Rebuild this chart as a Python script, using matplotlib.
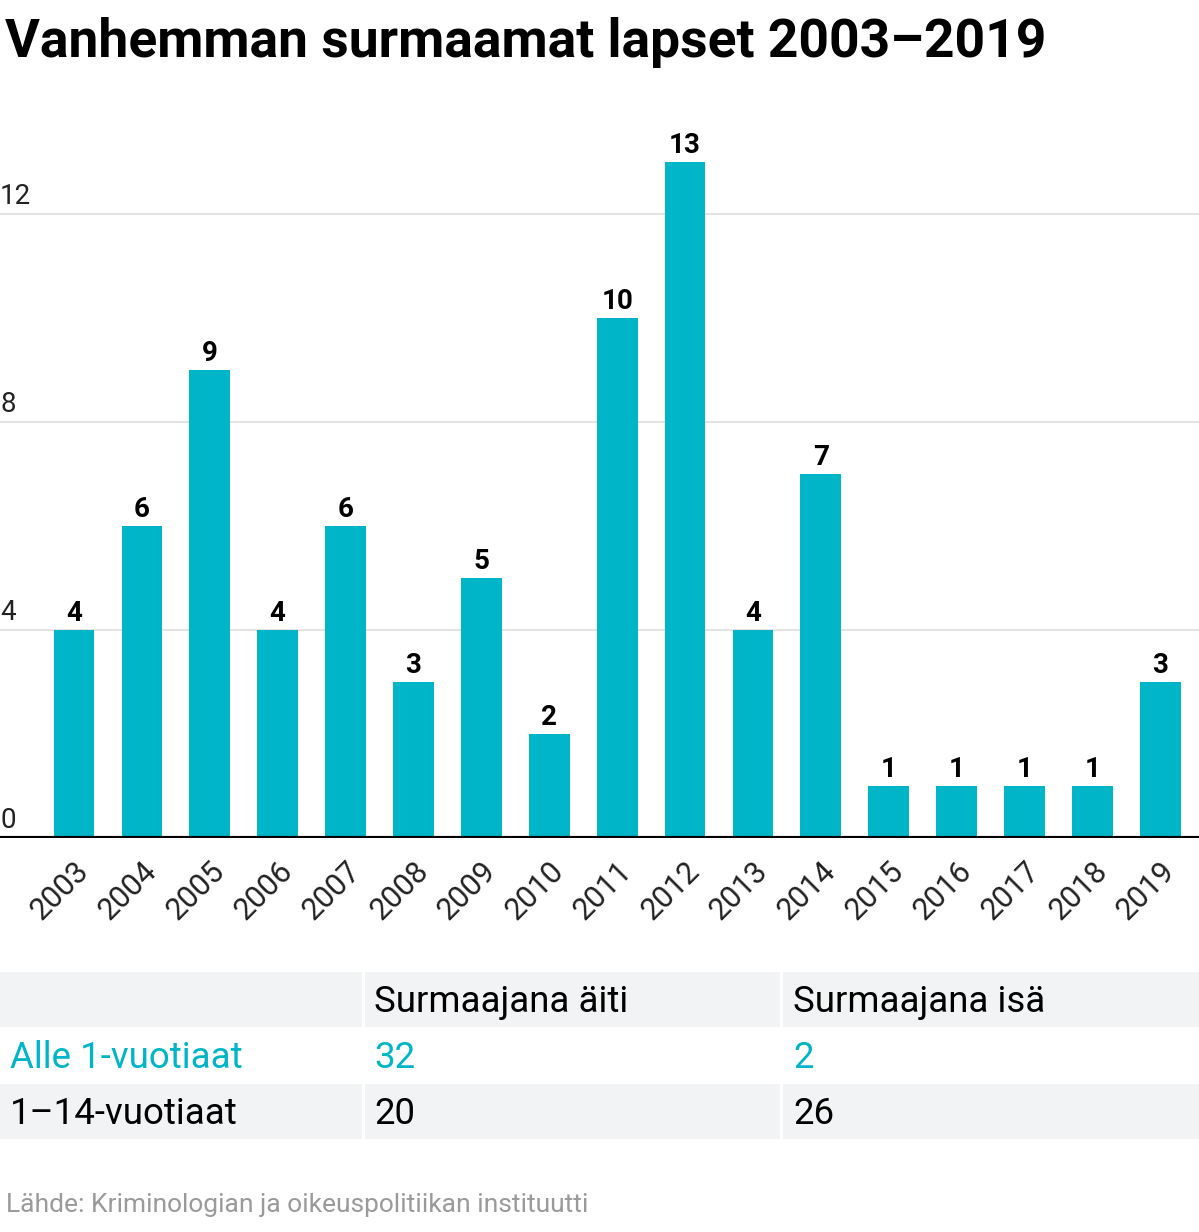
import matplotlib
matplotlib.use("Agg")
import matplotlib.pyplot as plt
from matplotlib.patches import Rectangle

plt.rcParams['font.family'] = ['Roboto', 'DejaVu Sans']

years = [str(y) for y in range(2003, 2020)]
values = [4, 6, 9, 4, 6, 3, 5, 2, 10, 13, 4, 7, 1, 1, 1, 1, 3]
yticks = [0, 4, 8, 12]

title = "Vanhemman surmaamat lapset 2003–2019"
col_headers = ["", "Surmaajana äiti", "Surmaajana isä"]
row_labels = ["Alle 1-vuotiaat", "1–14-vuotiaat"]
mother = [32, 20]
father = [2, 26]
source = "Lähde: Kriminologian ja oikeuspolitiikan instituutti"

TEAL = "#00b5c8"
W, H = 1199, 1232
fig = plt.figure(figsize=(W / 100, H / 100), dpi=100)

def fx(px):
    return px / W

def fy(py):
    return 1 - py / H

# axes: baseline at y=838, value 13 at y=162 -> 52 px/unit
top_px = 120
ax = fig.add_axes([0, fy(838), 1, (838 - top_px) / H])
ax.set_ylim(0, (838 - top_px) / 52.0)
n = len(values)
ax.set_xlim(-1.09, 16.57)
x = list(range(n))
ax.bar(x, values, width=0.6, color=TEAL, zorder=2)
for xi, v in zip(x, values):
    ax.text(xi, v + 0.06, str(v), ha='center', va='bottom', fontsize=20,
            fontweight='bold', color='black', zorder=3)
for t in yticks:
    if t > 0:
        ax.axhline(t, color='#e3e3e3', lw=1.5, zorder=1)
    ax.text(0.0, t + 0.07, str(t), transform=ax.get_yaxis_transform(),
            ha='left', va='bottom', fontsize=20, color='#222222')
ax.axhline(0, color='black', lw=3, zorder=4)
for s in ax.spines.values():
    s.set_visible(False)
ax.set_yticks([])
ax.set_xticks(x)
ax.set_xticklabels(years, rotation=45, ha='right', rotation_mode='anchor',
                   fontsize=22, color='#222222')
ax.tick_params(axis='x', length=0, pad=13)

# title
fig.text(fx(5), fy(42), title, fontsize=38.4, fontweight='bold', ha='left',
         va='center', color='black')

# table
rows_y = [(972, 1027), (1028, 1083), (1084, 1139)]
row_bg = ['#f2f3f4', '#ffffff', '#f2f3f4']
col_x = [(0, 362), (365, 780), (783, 1199)]
for (y0, y1), bg in zip(rows_y, row_bg):
    for (x0, x1) in col_x:
        fig.patches.append(Rectangle((fx(x0), fy(y1)), fx(x1 - x0), (y1 - y0) / H,
                                     transform=fig.transFigure, facecolor=bg,
                                     edgecolor='none'))
text_x = [10, 374, 793]
table_rows = [col_headers,
              [row_labels[0], str(mother[0]), str(father[0])],
              [row_labels[1], str(mother[1]), str(father[1])]]
row_colors = ['black', TEAL, 'black']
for (y0, y1), cells, c in zip(rows_y, table_rows, row_colors):
    for tx, cell in zip(text_x, cells):
        fig.text(fx(tx), fy((y0 + y1) / 2 - 1), cell, fontsize=26.4, color=c,
                 ha='left', va='center_baseline')

fig.text(fx(6), fy(1205), source, fontsize=19, color='#9a9a9a', ha='left',
         va='center')

fig.savefig("out.png", dpi=100)
